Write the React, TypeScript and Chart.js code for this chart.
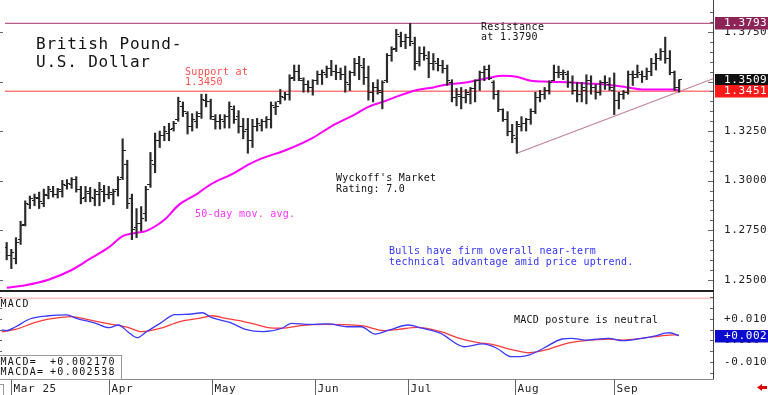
import React, { useEffect, useRef } from "react";
import { Chart, registerables } from "chart.js";

Chart.register(...registerables);

const MONO = '"DejaVu Sans Mono", monospace';

// ---------- data ----------
const monthIdx = [2, 23, 45, 67, 87, 110, 131];
const monthLabels = ["Mar 25", "Apr", "May", "Jun", "Jul", "Aug", "Sep"];

const opens = [
  1.2663, 1.2624, 1.2605, 1.2702, 1.2781, 1.2878, 1.2898, 1.2908, 1.2883, 1.2927,
  1.2947, 1.2932, 1.2947, 1.2976, 1.2981, 1.3005, 1.2957, 1.2917, 1.2937, 1.2908,
  1.2932, 1.2947, 1.2932, 1.2932, 1.2957, 1.3015, 1.3079, 1.2908, 1.2761, 1.2786,
  1.2834, 1.2981, 1.3079, 1.3201, 1.3226, 1.3240, 1.3265, 1.3309, 1.3372, 1.3338,
  1.3274, 1.3299, 1.3338, 1.3406, 1.3397, 1.3309, 1.3299, 1.3299, 1.3323, 1.3358,
  1.3323, 1.3274, 1.3260, 1.3201, 1.3274, 1.3279, 1.3299, 1.3309, 1.3367, 1.3397,
  1.3421, 1.3436, 1.3519, 1.3553, 1.3504, 1.3485, 1.3470, 1.3504, 1.3534, 1.3534,
  1.3568, 1.3553, 1.3543, 1.3534, 1.3485, 1.3543, 1.3592, 1.3573, 1.3519, 1.3446,
  1.3470, 1.3446, 1.3504, 1.3631, 1.3666, 1.3729, 1.3700, 1.3724, 1.3690, 1.3602,
  1.3641, 1.3617, 1.3592, 1.3592, 1.3583, 1.3568, 1.3495, 1.3421, 1.3426, 1.3421,
  1.3436, 1.3465, 1.3504, 1.3543, 1.3563, 1.3495, 1.3436, 1.3358, 1.3309, 1.3250,
  1.3211, 1.3274, 1.3289, 1.3309, 1.3348, 1.3421, 1.3436, 1.3455, 1.3504, 1.3543,
  1.3534, 1.3534, 1.3495, 1.3455, 1.3436, 1.3455, 1.3504, 1.3470, 1.3446, 1.3495,
  1.3485, 1.3455, 1.3406, 1.3436, 1.3446, 1.3534, 1.3534, 1.3534, 1.3524, 1.3553,
  1.3592, 1.3617, 1.3651, 1.3617, 1.3543, 1.3470,
];
const highs = [
  1.2688, 1.2653, 1.2712, 1.2795, 1.2898, 1.2922, 1.2932, 1.2942, 1.2957, 1.2971,
  1.2971, 1.2961, 1.3001, 1.3005, 1.3015, 1.3020, 1.2971, 1.2971, 1.2966, 1.2957,
  1.2991, 1.2976, 1.2971, 1.2957, 1.3020, 1.3211, 1.3103, 1.2932, 1.2859, 1.2869,
  1.2971, 1.3142, 1.3240, 1.3250, 1.3274, 1.3289, 1.3299, 1.3421, 1.3397, 1.3348,
  1.3338, 1.3348, 1.3436, 1.3436, 1.3411, 1.3333, 1.3333, 1.3333, 1.3397, 1.3377,
  1.3353, 1.3314, 1.3314, 1.3309, 1.3314, 1.3309, 1.3323, 1.3397, 1.3397, 1.3460,
  1.3446, 1.3534, 1.3583, 1.3583, 1.3519, 1.3504, 1.3509, 1.3553, 1.3558, 1.3578,
  1.3607, 1.3583, 1.3568, 1.3578, 1.3553, 1.3617, 1.3627, 1.3617, 1.3578, 1.3495,
  1.3509, 1.3504, 1.3641, 1.3675, 1.3763, 1.3749, 1.3739, 1.3793, 1.3724, 1.3675,
  1.3675, 1.3651, 1.3641, 1.3617, 1.3607, 1.3583, 1.3509, 1.3465, 1.3470, 1.3460,
  1.3470, 1.3509, 1.3553, 1.3578, 1.3583, 1.3504, 1.3455, 1.3362, 1.3348, 1.3284,
  1.3299, 1.3323, 1.3314, 1.3362, 1.3446, 1.3455, 1.3470, 1.3504, 1.3583, 1.3578,
  1.3558, 1.3553, 1.3529, 1.3495, 1.3495, 1.3534, 1.3529, 1.3485, 1.3504, 1.3529,
  1.3519, 1.3543, 1.3446, 1.3455, 1.3553, 1.3553, 1.3583, 1.3553, 1.3568, 1.3617,
  1.3641, 1.3666, 1.3724, 1.3656, 1.3553, 1.3509,
];
const lows = [
  1.2600, 1.2556, 1.2580, 1.2678, 1.2771, 1.2859, 1.2873, 1.2859, 1.2869, 1.2908,
  1.2917, 1.2912, 1.2917, 1.2957, 1.2961, 1.2942, 1.2883, 1.2893, 1.2893, 1.2873,
  1.2873, 1.2893, 1.2908, 1.2878, 1.2922, 1.3005, 1.2859, 1.2702, 1.2712, 1.2746,
  1.2795, 1.2966, 1.3040, 1.3167, 1.3201, 1.3201, 1.3250, 1.3299, 1.3323, 1.3235,
  1.3250, 1.3265, 1.3314, 1.3372, 1.3309, 1.3260, 1.3260, 1.3265, 1.3265, 1.3289,
  1.3240, 1.3211, 1.3138, 1.3167, 1.3250, 1.3250, 1.3265, 1.3265, 1.3333, 1.3387,
  1.3406, 1.3406, 1.3504, 1.3504, 1.3446, 1.3446, 1.3431, 1.3485, 1.3485, 1.3519,
  1.3529, 1.3509, 1.3509, 1.3446, 1.3455, 1.3529, 1.3509, 1.3485, 1.3406, 1.3397,
  1.3436, 1.3362, 1.3495, 1.3602, 1.3651, 1.3675, 1.3666, 1.3680, 1.3558, 1.3578,
  1.3607, 1.3519, 1.3558, 1.3553, 1.3543, 1.3480, 1.3397, 1.3377, 1.3362, 1.3392,
  1.3387, 1.3397, 1.3455, 1.3504, 1.3509, 1.3411, 1.3348, 1.3299, 1.3226, 1.3191,
  1.3138, 1.3250, 1.3250, 1.3284, 1.3338, 1.3397, 1.3411, 1.3436, 1.3504, 1.3519,
  1.3509, 1.3470, 1.3436, 1.3397, 1.3397, 1.3387, 1.3436, 1.3411, 1.3431, 1.3460,
  1.3455, 1.3333, 1.3362, 1.3411, 1.3436, 1.3480, 1.3519, 1.3495, 1.3509, 1.3529,
  1.3558, 1.3607, 1.3592, 1.3534, 1.3455, 1.3446,
];
const closes = [
  1.2624, 1.2639, 1.2688, 1.2771, 1.2883, 1.2908, 1.2917, 1.2893, 1.2932, 1.2957,
  1.2932, 1.2957, 1.2981, 1.2986, 1.3005, 1.2957, 1.2908, 1.2947, 1.2917, 1.2947,
  1.2957, 1.2932, 1.2942, 1.2947, 1.3005, 1.3152, 1.2883, 1.2751, 1.2786, 1.2810,
  1.2957, 1.3103, 1.3201, 1.3226, 1.3250, 1.3260, 1.3289, 1.3397, 1.3348, 1.3274,
  1.3309, 1.3323, 1.3411, 1.3397, 1.3323, 1.3299, 1.3309, 1.3323, 1.3372, 1.3309,
  1.3274, 1.3250, 1.3201, 1.3274, 1.3289, 1.3299, 1.3309, 1.3377, 1.3372, 1.3426,
  1.3436, 1.3514, 1.3553, 1.3514, 1.3485, 1.3470, 1.3504, 1.3534, 1.3543, 1.3568,
  1.3553, 1.3543, 1.3534, 1.3495, 1.3543, 1.3592, 1.3583, 1.3519, 1.3446, 1.3470,
  1.3455, 1.3495, 1.3631, 1.3661, 1.3739, 1.3700, 1.3724, 1.3700, 1.3592, 1.3641,
  1.3631, 1.3592, 1.3602, 1.3583, 1.3568, 1.3504, 1.3421, 1.3436, 1.3421, 1.3446,
  1.3465, 1.3504, 1.3543, 1.3563, 1.3514, 1.3436, 1.3358, 1.3309, 1.3250, 1.3226,
  1.3284, 1.3289, 1.3309, 1.3348, 1.3421, 1.3436, 1.3455, 1.3495, 1.3543, 1.3543,
  1.3543, 1.3495, 1.3455, 1.3436, 1.3470, 1.3504, 1.3470, 1.3446, 1.3495, 1.3495,
  1.3470, 1.3406, 1.3436, 1.3446, 1.3534, 1.3519, 1.3543, 1.3524, 1.3553, 1.3592,
  1.3617, 1.3651, 1.3617, 1.3543, 1.3470, 1.3509,
];

// 50-day moving average (bar index, value)
const maIdx = [0, 4, 9, 14, 18, 22, 25, 28, 30, 34, 37, 41, 44, 49, 52, 55, 60, 66, 70, 75, 78, 81, 85, 88, 92, 95, 99, 102, 104, 107, 110, 113, 117, 122, 125, 129, 131, 134, 137, 140, 144, 145];
const maVal = [1.2459, 1.2472, 1.2500, 1.2549, 1.2606, 1.2663, 1.2720, 1.2737, 1.2745, 1.2802, 1.2875, 1.2932, 1.2981, 1.3038, 1.3079, 1.3112, 1.3152, 1.3216, 1.3274, 1.3333, 1.3372, 1.3397, 1.3431, 1.3455, 1.3470, 1.3485, 1.3495, 1.3509, 1.3519, 1.3529, 1.3524, 1.3504, 1.3499, 1.3495, 1.3490, 1.3485, 1.3480, 1.3470, 1.3460, 1.3460, 1.3460, 1.3455];

// MACD (blue) and MACDA signal (red)
const macdIdx = [0, 1, 3, 6, 10, 14, 16, 20, 23, 25, 27, 29, 31, 34, 37, 40, 43, 45, 49, 52, 56, 60, 62, 66, 70, 74, 77, 80, 83, 87, 90, 94, 99, 103, 106, 109, 111, 113, 116, 120, 122, 125, 130, 133, 137, 140, 142, 143, 144, 145];
const macdVal = [0.0049, 0.0046, 0.0064, 0.0100, 0.0115, 0.0119, 0.0103, 0.0081, 0.0060, 0.0072, 0.0041, 0.0013, 0.0041, 0.0081, 0.0120, 0.0122, 0.0129, 0.0106, 0.0083, 0.0053, 0.0041, 0.0057, 0.0080, 0.0075, 0.0077, 0.0064, 0.0064, 0.0030, 0.0049, 0.0072, 0.0057, 0.0033, -0.0029, -0.0016, -0.0036, -0.0075, -0.0075, -0.0067, -0.0036, 0.0007, 0.0010, 0.0002, 0.0010, -0.0001, 0.0010, 0.0022, 0.0034, 0.0036, 0.0031, 0.0022];
const sigIdx = [0, 3, 7, 10, 15, 18, 23, 27, 30, 34, 38, 43, 45, 48, 52, 55, 57, 60, 64, 69, 77, 82, 85, 89, 94, 98, 102, 105, 109, 113, 117, 121, 125, 130, 133, 137, 141, 144, 145];
const sigVal = [0.0041, 0.0052, 0.0083, 0.0099, 0.0111, 0.0099, 0.0077, 0.0061, 0.0041, 0.0057, 0.0087, 0.0106, 0.0115, 0.0103, 0.0087, 0.0072, 0.0060, 0.0057, 0.0069, 0.0075, 0.0069, 0.0046, 0.0052, 0.0061, 0.0041, 0.0010, -0.0010, -0.0018, -0.0041, -0.0057, -0.0041, -0.0013, -0.0001, 0.0006, 0.0002, 0.0010, 0.0021, 0.0026, 0.0025];

const priceTicks = [1.25, 1.275, 1.3, 1.325, 1.375];
const macdTicks = [-0.01, 0, 0.01];
const supportLevel = 1.3451;
const resistanceLevel = 1.3793;
const trendIdx = [110, 152.3];
const trendVal = [1.3138, 1.3514];
const macdLast = 0.00217;
const macdaLast = 0.002538;

const X_MIN = -0.364;
const X_MAX = 152.3;
const P_MIN = 1.2443;
const P_MAX = 1.3886;
const M_MIN = -0.01791;
const M_MAX = 0.02023;

// ---------- helpers ----------
function txt(ctx: any, s: string, x: number, y: number, font: string, color: string, ls = "0px", base = "alphabetic") {
  ctx.font = font;
  ctx.fillStyle = color;
  ctx.letterSpacing = ls;
  ctx.textAlign = "left";
  ctx.textBaseline = base;
  ctx.fillText(s, x, y);
}

function makeTick(side: string) {
  const c = document.createElement("canvas");
  c.width = 6;
  c.height = 1;
  const g = c.getContext("2d")!;
  g.fillStyle = "#222";
  if (side === "l") g.fillRect(0, 0, 3, 1);
  else g.fillRect(3, 0, 3, 1);
  return c;
}

function valueBox(ctx: any, y: number, left: number, color: string, label: string) {
  const top = Math.round(y) - 6;
  ctx.fillStyle = color;
  ctx.fillRect(left, top, 768 - left, 12.5);
  txt(ctx, label, 724, top + 6.5, `11px ${MONO}`, "#ffffff", "0.6px", "middle");
}

const pricePlugin = {
  id: "priceDecor",
  beforeDraw(chart: any) {
    const ctx = chart.ctx;
    ctx.save();
    ctx.fillStyle = "#fff";
    ctx.fillRect(0, 0, chart.width, chart.height);
    ctx.restore();
    ctx.letterSpacing = "0.6px";
  },
  afterDraw(chart: any) {
    const { ctx, chartArea: ca } = chart;
    const ys = chart.scales.y;
    ctx.save();
    ctx.lineWidth = 1;
    ctx.strokeStyle = "#444";
    ctx.beginPath();
    ctx.moveTo(ca.right + 0.5, 0);
    ctx.lineTo(ca.right + 0.5, chart.height);
    ctx.stroke();
    ctx.strokeStyle = "#666";
    ctx.beginPath();
    for (let v = 1.245; v < P_MAX; v += 0.005) {
      const y = Math.round(ys.getPixelForValue(v)) + 0.5;
      ctx.moveTo(ca.right - 3, y);
      ctx.lineTo(ca.right, y);
    }
    for (const v of [1.25, 1.275, 1.3, 1.325, 1.35, 1.375]) {
      const y = Math.round(ys.getPixelForValue(v)) + 0.5;
      ctx.moveTo(ca.right - 5, y);
      ctx.lineTo(ca.right, y);
      ctx.moveTo(0, y);
      ctx.lineTo(3, y);
    }
    ctx.stroke();
    ctx.fillStyle = "#222";
    ctx.fillRect(0, ca.bottom - 1, ca.right + 1, 2);
    valueBox(ctx, ys.getPixelForValue(resistanceLevel), ca.right + 2, "#8c2458", resistanceLevel.toFixed(4));
    const last = closes[closes.length - 1];
    valueBox(ctx, ys.getPixelForValue(last), ca.right + 2, "#111111", last.toFixed(4));
    valueBox(ctx, ys.getPixelForValue(supportLevel), ca.right + 2, "#ff1a1a", supportLevel.toFixed(4));
    txt(ctx, "British Pound-", 36, 49, `16px ${MONO}`, "#111", "0.8px");
    txt(ctx, "U.S. Dollar", 36, 66.5, `16px ${MONO}`, "#111", "0.8px");
    const small = `10px ${MONO}`;
    txt(ctx, "Support at", 185, 74.5, small, "#ff4d4d", "0.3px");
    txt(ctx, "1.3450", 185, 84.5, small, "#ff4d4d", "0.3px");
    txt(ctx, "Resistance", 481, 29.7, small, "#111", "0.3px");
    txt(ctx, "at 1.3790", 481, 40.3, small, "#111", "0.3px");
    txt(ctx, "Wyckoff's Market", 336, 180.7, small, "#111", "0.25px");
    txt(ctx, "Rating: 7.0", 336, 191.5, small, "#111", "0.25px");
    txt(ctx, "50-day mov. avg.", 195, 217, small, "#ff33ff", "0.25px");
    txt(ctx, "Bulls have firm overall near-term", 389, 254.3, small, "#3333ff", "0.25px");
    txt(ctx, "technical advantage amid price uptrend.", 389, 265, small, "#3333ff", "0.25px");
    ctx.restore();
  },
};

const macdPlugin = {
  id: "macdDecor",
  beforeDraw(chart: any) {
    const ctx = chart.ctx;
    ctx.save();
    ctx.fillStyle = "#fff";
    ctx.fillRect(0, 0, chart.width, chart.height);
    ctx.restore();
    ctx.letterSpacing = "0.6px";
  },
  afterDraw(chart: any) {
    const { ctx, chartArea: ca } = chart;
    const xs = chart.scales.x;
    const ys = chart.scales.y;
    ctx.save();
    ctx.strokeStyle = "#ffc4c4";
    ctx.lineWidth = 1.5;
    ctx.beginPath();
    ctx.moveTo(0, 2.3);
    ctx.lineTo(ca.right, 2.3);
    ctx.stroke();
    ctx.lineWidth = 1;
    ctx.strokeStyle = "#444";
    ctx.beginPath();
    ctx.moveTo(ca.right + 0.5, 0);
    ctx.lineTo(ca.right + 0.5, ca.bottom + 1);
    ctx.stroke();
    ctx.strokeStyle = "#666";
    ctx.beginPath();
    for (let v = -0.015; v < M_MAX; v += 0.005) {
      const y = Math.round(ys.getPixelForValue(v)) + 0.5;
      ctx.moveTo(ca.right - 3, y);
      ctx.lineTo(ca.right, y);
      ctx.moveTo(0, y);
      ctx.lineTo(2, y);
    }
    ctx.stroke();
    ctx.strokeStyle = "#888";
    ctx.beginPath();
    ctx.moveTo(0, ca.bottom + 0.5);
    ctx.lineTo(ca.right + 1, ca.bottom + 0.5);
    ctx.stroke();
    ctx.strokeStyle = "#666";
    monthIdx.forEach((m, k) => {
      const x = Math.round(xs.getPixelForValue(m)) + 0.5;
      ctx.beginPath();
      ctx.moveTo(x, ca.bottom);
      ctx.lineTo(x, chart.height);
      ctx.stroke();
      txt(ctx, monthLabels[k], x + 2, chart.height - 3.3, `11px ${MONO}`, "#222", "0.6px");
    });
    txt(ctx, "MACD", 0.5, 11.3, `10px ${MONO}`, "#111", "1.3px");
    txt(ctx, "MACD posture is neutral", 514, 26.7, `10px ${MONO}`, "#111", "0.25px");
    ctx.fillStyle = "#fff";
    ctx.fillRect(-1, 59, 123, 24);
    ctx.strokeStyle = "#999";
    ctx.strokeRect(-0.5, 59.5, 122, 24);
    const fmt = (v: number) => (v >= 0 ? "+" : "") + v.toFixed(6);
    txt(ctx, "MACD=", 0.5, 68.5, `10px ${MONO}`, "#111", "1.3px");
    txt(ctx, fmt(macdLast), 50, 68.5, `10px ${MONO}`, "#111", "1.3px");
    txt(ctx, "MACDA=", 0.5, 79, `10px ${MONO}`, "#111", "1.3px");
    txt(ctx, fmt(macdaLast), 50, 79, `10px ${MONO}`, "#111", "1.3px");
    valueBox(ctx, ys.getPixelForValue(macdLast), ca.right + 2, "#0c0cd0", "+" + macdLast.toFixed(3));
    ctx.strokeStyle = "#999";
    ctx.strokeRect(-3.5, 88.5, 7, 14);
    ctx.fillStyle = "#e00000";
    ctx.beginPath();
    ctx.moveTo(757, 91.5);
    ctx.lineTo(762, 88);
    ctx.lineTo(762, 90);
    ctx.lineTo(767, 90);
    ctx.lineTo(767, 93);
    ctx.lineTo(762, 93);
    ctx.lineTo(762, 95);
    ctx.closePath();
    ctx.fill();
    ctx.restore();
  },
};

export default function App() {
  const priceRef = useRef<HTMLCanvasElement>(null);
  const macdRef = useRef<HTMLCanvasElement>(null);

  useEffect(() => {
    const openTick = makeTick("l");
    const closeTick = makeTick("r");

    const yAxisCommon = (ticksArr: number[], fmt: (v: number) => string) => ({
      type: "linear" as const,
      position: "right" as const,
      grid: { display: false, drawTicks: false },
      border: { display: false },
      afterBuildTicks: (s: any) => {
        s.ticks = ticksArr.map((v) => ({ value: v }));
      },
      afterFit: (s: any) => {
        s.width = 55;
        s.paddingTop = 0;
        s.paddingBottom = 0;
      },
      ticks: {
        padding: 11,
        color: "#222",
        font: { family: MONO, size: 11 },
        callback: (v: any) => fmt(Number(v)),
      },
    });

    const c1 = new Chart(priceRef.current!, {
      type: "bar",
      data: {
        datasets: [
          {
            type: "bar",
            label: "High-Low",
            data: highs.map((h, i) => ({ x: i, y: [lows[i], h] })) as any,
            backgroundColor: "#2a2a2a",
            barThickness: 1.5,
            borderWidth: 0,
            grouped: false,
            order: 1,
          } as any,
          {
            type: "scatter",
            label: "Open",
            data: opens.map((v, i) => ({ x: i, y: v })),
            pointStyle: openTick as any,
            pointRadius: 2,
            order: 0,
          },
          {
            type: "scatter",
            label: "Close",
            data: closes.map((v, i) => ({ x: i, y: v })),
            pointStyle: closeTick as any,
            pointRadius: 2,
            order: 0,
          },
          {
            type: "line",
            label: "50-day mov. avg.",
            data: maIdx.map((x, k) => ({ x, y: maVal[k] })),
            borderColor: "#ff00ff",
            borderWidth: 2,
            pointRadius: 0,
            cubicInterpolationMode: "monotone",
            order: 2,
          },
          {
            type: "line",
            label: "Support",
            data: [
              { x: X_MIN, y: supportLevel },
              { x: X_MAX, y: supportLevel },
            ],
            borderColor: "#ff7a7a",
            borderWidth: 1.4,
            pointRadius: 0,
            order: 3,
          },
          {
            type: "line",
            label: "Resistance",
            data: [
              { x: X_MIN, y: resistanceLevel },
              { x: X_MAX, y: resistanceLevel },
            ],
            borderColor: "#b85a8e",
            borderWidth: 1.2,
            pointRadius: 0,
            order: 3,
          },
          {
            type: "line",
            label: "Trend",
            data: trendIdx.map((x, k) => ({ x, y: trendVal[k] })),
            borderColor: "#c27d9c",
            borderWidth: 1.1,
            pointRadius: 0,
            order: 3,
          },
        ],
      },
      options: {
        animation: false,
        responsive: false,
        maintainAspectRatio: false,
        events: [],
        layout: { padding: { top: 0, bottom: 1, left: 0, right: 0 } },
        plugins: { legend: { display: false }, tooltip: { enabled: false } },
        scales: {
          x: { type: "linear", min: X_MIN, max: X_MAX, display: false, offset: false } as any,
          y: { ...yAxisCommon(priceTicks, (v) => v.toFixed(4)), min: P_MIN, max: P_MAX } as any,
        },
      },
      plugins: [pricePlugin as any],
    });

    const c2 = new Chart(macdRef.current!, {
      type: "line",
      data: {
        datasets: [
          {
            label: "MACD",
            data: macdIdx.map((x, k) => ({ x, y: macdVal[k] })),
            borderColor: "#3a3aff",
            borderWidth: 1.3,
            pointRadius: 0,
            cubicInterpolationMode: "monotone",
          },
          {
            label: "MACDA",
            data: sigIdx.map((x, k) => ({ x, y: sigVal[k] })),
            borderColor: "#ff3a3a",
            borderWidth: 1.3,
            pointRadius: 0,
            cubicInterpolationMode: "monotone",
          },
        ],
      },
      options: {
        animation: false,
        responsive: false,
        maintainAspectRatio: false,
        events: [],
        layout: { padding: { top: 1, bottom: 16, left: 0, right: 0 } },
        plugins: { legend: { display: false }, tooltip: { enabled: false } },
        scales: {
          x: { type: "linear", min: X_MIN, max: X_MAX, display: false, offset: false } as any,
          y: {
            ...yAxisCommon(macdTicks, (v) => (v > 0 ? "+" : "") + v.toFixed(3)),
            min: M_MIN,
            max: M_MAX,
          } as any,
        },
      },
      plugins: [macdPlugin as any],
    });

    return () => {
      c1.destroy();
      c2.destroy();
    };
  }, []);

  return (
    <div style={{ position: "fixed", left: 0, top: 0, width: 768, height: 395, background: "#fff" }}>
      <canvas ref={priceRef} width={768} height={296} style={{ position: "absolute", left: 0, top: 0 }} />
      <canvas ref={macdRef} width={768} height={99} style={{ position: "absolute", left: 0, top: 296 }} />
    </div>
  );
}
